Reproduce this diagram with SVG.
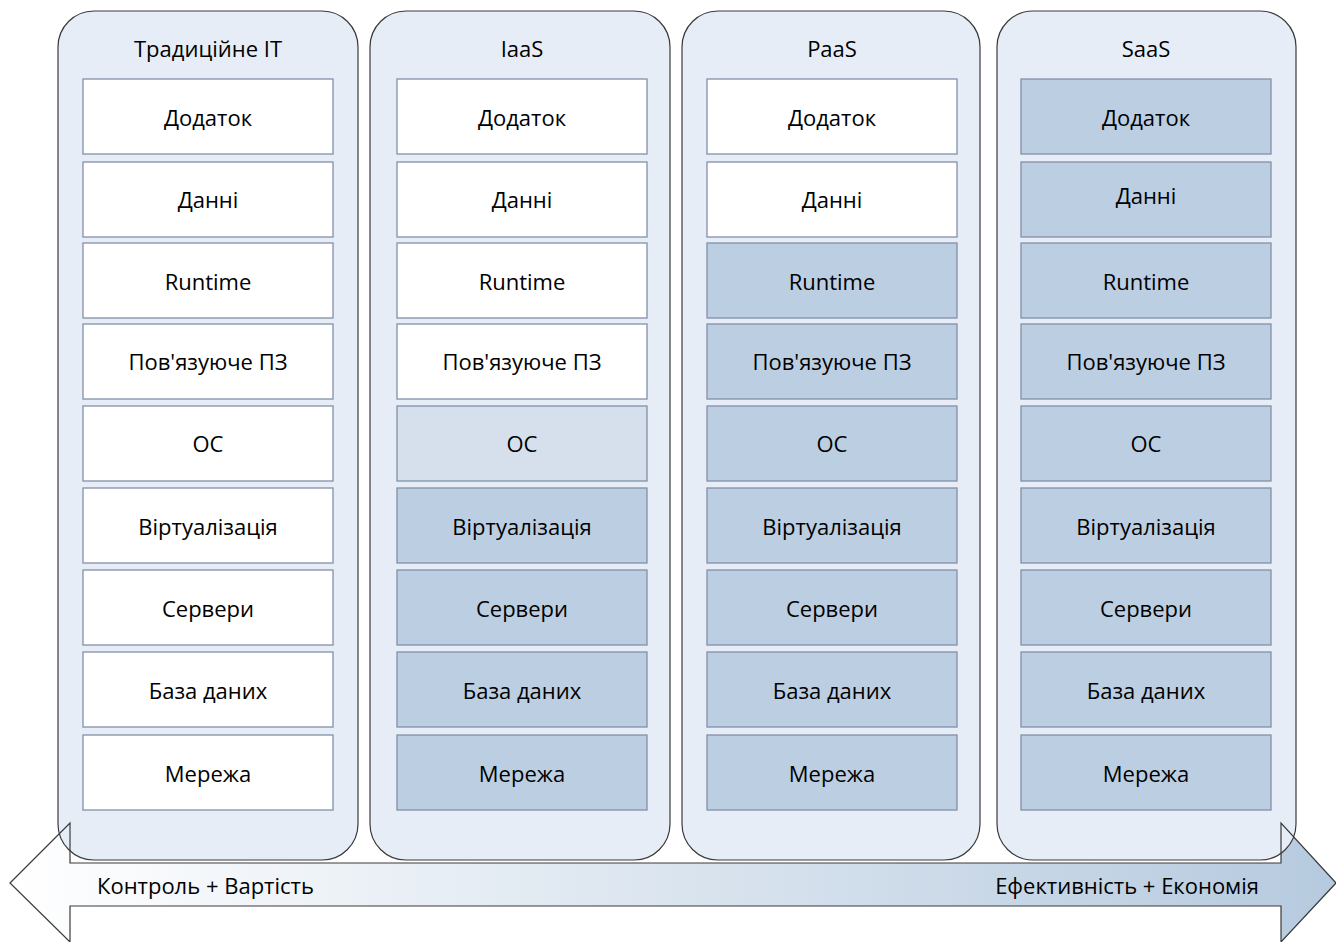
<svg xmlns="http://www.w3.org/2000/svg" width="1336" height="942" viewBox="0 0 1336 942">
  <style>
    .col { fill: #e7edf7; stroke: #3a3a3a; stroke-width: 1.2; }
    .box { stroke: #8290a8; stroke-width: 1.3; }
    .w { fill: #ffffff; }
    .d { fill: #bccee2; }
    .l { fill: #d5e0ec; }
    text { font-family: "Open Sans", "Noto Sans", sans-serif; font-size: 22px; fill: #000; text-anchor: middle; dominant-baseline: central; }
    .lbl-start { text-anchor: start; }
    .lbl-end { text-anchor: end; }
    .arrowline { fill: none; stroke: #3a3a3a; stroke-width: 1.2; }
  </style>
  <defs>
    <linearGradient id="arrowFill" x1="0" y1="0" x2="1" y2="0">
      <stop offset="0" stop-color="#ffffff"/>
      <stop offset="1" stop-color="#b6cadf"/>
    </linearGradient>
  </defs>
  <rect width="1336" height="942" fill="#ffffff"/>

  <!-- double-headed arrow body, under the columns -->
  <path id="arrow-fill" d="M10,883 L70,823 L70,863 L1281,863 L1281,823 L1336,883 L1281,942 L1281,906 L70,906 L70,942 Z" fill="url(#arrowFill)"/>

  <!-- Traditional IT -->
  <g id="col-traditional">
    <rect class="col" x="58" y="11" width="300" height="849" rx="36"/>
    <text x="208" y="48">Традиційне ІТ</text>
    <rect class="box w" x="83" y="79" width="250" height="75"/><text x="208" y="117">Додаток</text>
    <rect class="box w" x="83" y="162" width="250" height="75"/><text x="208" y="199">Данні</text>
    <rect class="box w" x="83" y="243" width="250" height="75"/><text x="208" y="281">Runtime</text>
    <rect class="box w" x="83" y="324" width="250" height="75"/><text x="208" y="361">Пов'язуюче ПЗ</text>
    <rect class="box w" x="83" y="406" width="250" height="75"/><text x="208" y="443">ОС</text>
    <rect class="box w" x="83" y="488" width="250" height="75"/><text x="208" y="526">Віртуалізація</text>
    <rect class="box w" x="83" y="570" width="250" height="75"/><text x="208" y="608">Сервери</text>
    <rect class="box w" x="83" y="652" width="250" height="75"/><text x="208" y="690">База даних</text>
    <rect class="box w" x="83" y="735" width="250" height="75"/><text x="208" y="773">Мережа</text>
  </g>

  <!-- IaaS -->
  <g id="col-iaas">
    <rect class="col" x="370" y="11" width="300" height="849" rx="36"/>
    <text x="522" y="48">IaaS</text>
    <rect class="box w" x="397" y="79" width="250" height="75"/><text x="522" y="117">Додаток</text>
    <rect class="box w" x="397" y="162" width="250" height="75"/><text x="522" y="199">Данні</text>
    <rect class="box w" x="397" y="243" width="250" height="75"/><text x="522" y="281">Runtime</text>
    <rect class="box w" x="397" y="324" width="250" height="75"/><text x="522" y="361">Пов'язуюче ПЗ</text>
    <rect class="box l" x="397" y="406" width="250" height="75"/><text x="522" y="443">ОС</text>
    <rect class="box d" x="397" y="488" width="250" height="75"/><text x="522" y="526">Віртуалізація</text>
    <rect class="box d" x="397" y="570" width="250" height="75"/><text x="522" y="608">Сервери</text>
    <rect class="box d" x="397" y="652" width="250" height="75"/><text x="522" y="690">База даних</text>
    <rect class="box d" x="397" y="735" width="250" height="75"/><text x="522" y="773">Мережа</text>
  </g>

  <!-- PaaS -->
  <g id="col-paas">
    <rect class="col" x="682" y="11" width="298" height="849" rx="36"/>
    <text x="832" y="48">PaaS</text>
    <rect class="box w" x="707" y="79" width="250" height="75"/><text x="832" y="117">Додаток</text>
    <rect class="box w" x="707" y="162" width="250" height="75"/><text x="832" y="199">Данні</text>
    <rect class="box d" x="707" y="243" width="250" height="75"/><text x="832" y="281">Runtime</text>
    <rect class="box d" x="707" y="324" width="250" height="75"/><text x="832" y="361">Пов'язуюче ПЗ</text>
    <rect class="box d" x="707" y="406" width="250" height="75"/><text x="832" y="443">ОС</text>
    <rect class="box d" x="707" y="488" width="250" height="75"/><text x="832" y="526">Віртуалізація</text>
    <rect class="box d" x="707" y="570" width="250" height="75"/><text x="832" y="608">Сервери</text>
    <rect class="box d" x="707" y="652" width="250" height="75"/><text x="832" y="690">База даних</text>
    <rect class="box d" x="707" y="735" width="250" height="75"/><text x="832" y="773">Мережа</text>
  </g>

  <!-- SaaS -->
  <g id="col-saas">
    <rect class="col" x="997" y="11" width="299" height="849" rx="36"/>
    <text x="1146" y="48">SaaS</text>
    <rect class="box d" x="1021" y="79" width="250" height="75"/><text x="1146" y="117">Додаток</text>
    <rect class="box d" x="1021" y="162" width="250" height="75"/><text x="1146" y="195">Данні</text>
    <rect class="box d" x="1021" y="243" width="250" height="75"/><text x="1146" y="281">Runtime</text>
    <rect class="box d" x="1021" y="324" width="250" height="75"/><text x="1146" y="361">Пов'язуюче ПЗ</text>
    <rect class="box d" x="1021" y="406" width="250" height="75"/><text x="1146" y="443">ОС</text>
    <rect class="box d" x="1021" y="488" width="250" height="75"/><text x="1146" y="526">Віртуалізація</text>
    <rect class="box d" x="1021" y="570" width="250" height="75"/><text x="1146" y="608">Сервери</text>
    <rect class="box d" x="1021" y="652" width="250" height="75"/><text x="1146" y="690">База даних</text>
    <rect class="box d" x="1021" y="735" width="250" height="75"/><text x="1146" y="773">Мережа</text>
  </g>

  <!-- arrow outline and labels, over the columns -->
  <g id="connectors">
    <path class="arrowline" d="M10,883 L70,823 L70,863 L1281,863 L1281,823 L1336,883 L1281,942 L1281,906 L70,906 L70,942 Z"/>
    <text class="lbl-start" x="97" y="885">Контроль + Вартість</text>
    <text class="lbl-end" x="1259" y="885">Ефективність + Економія</text>
  </g>
</svg>
